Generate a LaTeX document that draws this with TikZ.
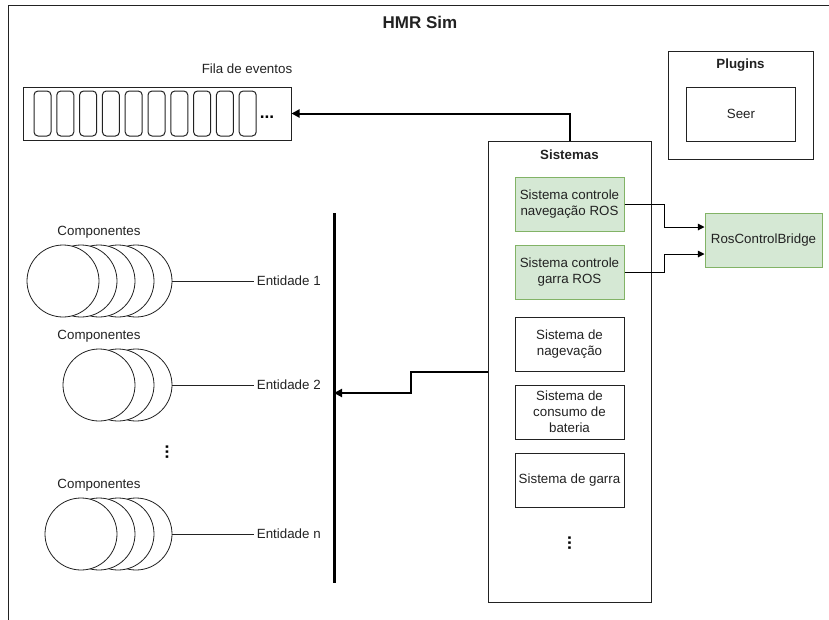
\documentclass[tikz,border=0pt]{standalone}
\usepackage{fontspec}
\setmainfont{Liberation Sans}
\usetikzlibrary{arrows.meta}
\definecolor{grnfill}{HTML}{D5E8D4}
\definecolor{grnline}{HTML}{82B366}
\definecolor{ink}{HTML}{222222}
\begin{document}
\begin{tikzpicture}[x=0.75pt,y=-0.75pt,
  txt/.style={font=\fontsize{10}{12}\selectfont, text=ink, inner sep=2pt, align=center},
  head/.style={font=\bfseries\fontsize{10}{12}\selectfont, text=ink, inner sep=1pt},
  box/.style={txt, draw=ink, line width=0.75pt, fill=white, minimum width=81.75pt, minimum height=40.5pt, inner sep=1pt},
  grnbox/.style={box, draw=grnline, fill=grnfill},
  evt/.style={draw=ink, line width=0.75pt, rounded corners=3pt, minimum width=12.75pt, minimum height=33.75pt, inner sep=0pt},
  comp/.style={circle, draw=ink, line width=0.6pt, fill=white, minimum size=54pt, inner sep=0pt},
  ellip/.style={font=\bfseries\fontsize{13}{15}\selectfont, text=black, inner sep=0pt},
  link/.style={draw=black, line width=0.75pt, -{Triangle[length=5pt,width=5pt]}},
  boldlink/.style={draw=black, line width=1.5pt, -{Triangle[length=6pt,width=6pt]}},
]
\useasboundingbox (0,0) rectangle (829,619);
% outer frame of the simulator, running past the page edges
\begin{scope}
  \clip (0,0) rectangle (829,619);
  \draw[ink, line width=0.75pt] (8,5) rectangle (860,650);
\end{scope}
\node[font=\bfseries\fontsize{12.75}{15}\selectfont, text=ink] (title) at (420,22) {HMR Sim};

% event queue
\node[txt] (qlabel) at (247,69) {Fila de eventos};
\node[draw=ink, line width=0.75pt, minimum width=201pt, minimum height=39.75pt] (queue) at (157,113.5) {};
\foreach \i in {0,...,9}
  \node[evt] (ev\i) at ({42.5+22.8*\i},113.5) {};
\node[ellip] (qdots) at (267,117) {...};

% plugins
\node[draw=ink, line width=0.75pt, minimum width=108.75pt, minimum height=81pt] (plugins) at (740.5,105) {};
\node[head] (plabel) at (740.5,65) {Plugins};
\node[box] (seer) at (741,114) {Seer};

% systems
\node[draw=ink, line width=0.75pt, minimum width=122.25pt, minimum height=345.75pt] (sist) at (569.5,371.5) {};
\node[head] (slabel) at (569.5,155) {Sistemas};
\node[grnbox] (g1) at (569.5,204) {Sistema controle\\navegação ROS};
\node[grnbox] (g2) at (569.5,272) {Sistema controle\\garra ROS};
\node[box] (s3) at (569.5,344) {Sistema de\\nagevação};
\node[box] (s4) at (569.5,412) {Sistema de\\consumo de\\bateria};
\node[box] (s5) at (569.5,480) {Sistema de garra};
\node[ellip, rotate=90] (sdots) at (569.5,543) {...};

\node[grnbox, minimum width=87.75pt] (rcb) at (763.5,240) {RosControlBridge};

% entity bus
\coordinate (bartop) at (334,213);
\coordinate (barbot) at (334,583);
\coordinate (barhit) at (334,393);
\draw[black, line width=2.25pt] (bartop) -- (barbot);

% entities with their components (leftmost circle in front)
\foreach \cx [count=\k] in {136,118,99,81,63}
  \node[comp] (c1-\k) at (\cx,281) {};
\foreach \cx [count=\k] in {136,118,99}
  \node[comp] (c2-\k) at (\cx,385) {};
\foreach \cx [count=\k] in {136,118,99,81}
  \node[comp] (cn-\k) at (\cx,534) {};
\node[txt] (comp1) at (99,232) {Componentes};
\node[txt] (comp2) at (99,336) {Componentes};
\node[txt] (compn) at (99,485) {Componentes};
\node[txt, anchor=west] (ent1) at (254,281) {Entidade 1};
\node[txt, anchor=west] (ent2) at (254,385) {Entidade 2};
\node[txt, anchor=west] (entn) at (254,534) {Entidade n};
\draw[ink, line width=0.6pt] (c1-1.east) -- (ent1.west);
\draw[ink, line width=0.6pt] (c2-1.east) -- (ent2.west);
\draw[ink, line width=0.6pt] (cn-1.east) -- (entn.west);
\node[ellip, rotate=90] (edots) at (167,452) {...};

% connectors
\draw[boldlink] (sist.north) |- (queue.east);
\draw[boldlink] (sist.west) -- ++(-77,0) |- (barhit);
\draw[link] (g1.east) -- ++(40,0) |- ([yshift=9.75pt]rcb.west);
\draw[link] (g2.east) -- ++(40,0) |- ([yshift=-10.5pt]rcb.west);
\end{tikzpicture}
\end{document}
